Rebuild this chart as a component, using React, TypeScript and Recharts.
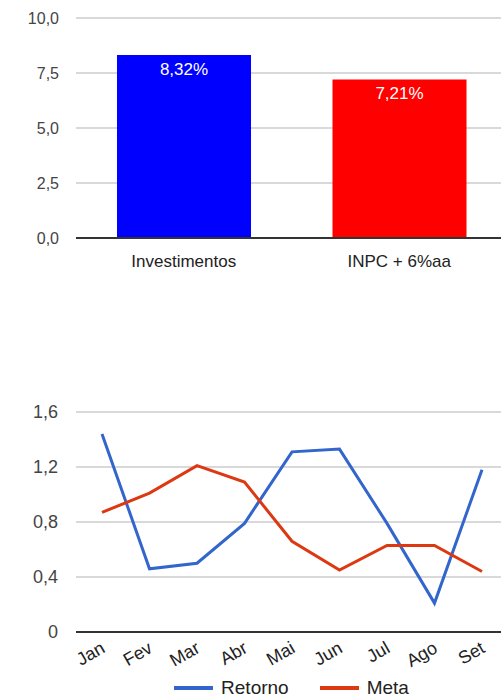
import { BarChart, Bar, LineChart, Line, XAxis, YAxis, CartesianGrid, LabelList, Legend, Cell } from 'recharts';

// comparativo anual
const barCategories = ['Investimentos', 'INPC + 6%aa'];
const barValues = [8.32, 7.21];
const barColors = ['#0000ff', '#ff0000'];
const barTicks = [0, 2.5, 5, 7.5, 10];

// retorno mensal x meta
const months = ['Jan', 'Fev', 'Mar', 'Abr', 'Mai', 'Jun', 'Jul', 'Ago', 'Set'];
const retorno = [1.44, 0.46, 0.5, 0.79, 1.31, 1.33, 0.79, 0.21, 1.18];
const meta = [0.87, 1.01, 1.21, 1.09, 0.66, 0.45, 0.63, 0.63, 0.44];
const lineTicks = [0, 0.4, 0.8, 1.2, 1.6];

const FONT = '"Liberation Sans", Arial, sans-serif';

const comma = (v: number, d: number) => v.toFixed(d).replace('.', ',');

const RotatedTick = ({ x, y, payload }: any) => (
  <g transform={`translate(${x + 1},${y + 6})`}>
    <text x={0} y={0} dy="0.35em" textAnchor="end" transform="rotate(-30)" fill="#222" fontSize={18} fontFamily={FONT}>
      {payload.value}
    </text>
  </g>
);

const LegendContent = () => {
  const items = [
    { name: 'Retorno', color: '#3366cc' },
    { name: 'Meta', color: '#dc3912' },
  ];
  return (
    <div style={{ display: 'flex', justifyContent: 'center', alignItems: 'center', height: 24, paddingLeft: 76, fontFamily: FONT, fontSize: 19, color: '#222' }}>
      {items.map((it, i) => (
        <div key={it.name} style={{ display: 'flex', alignItems: 'center', marginLeft: i ? 31 : 0 }}>
          <div style={{ width: 39, height: 4, background: it.color, marginRight: 8 }} />
          <span>{it.name}</span>
        </div>
      ))}
    </div>
  );
};

export default function App() {
  const barData = barCategories.map((name, i) => ({ name, value: barValues[i] }));
  const lineData = months.map((m, i) => ({ month: m, Retorno: retorno[i], Meta: meta[i] }));

  return (
    <div style={{ position: 'absolute', left: 0, top: 0, width: 501, height: 700, overflow: 'hidden', background: '#fff', fontFamily: FONT }}>
      <div style={{ position: 'absolute', left: 0, top: 0 }}>
        <BarChart width={507} height={280} data={barData} margin={{ top: 18, right: 0, bottom: 12, left: 0 }}>
          <CartesianGrid vertical={false} stroke="#cccccc" strokeWidth={1.5} />
          <XAxis
            dataKey="name"
            height={30}
            tickLine={false}
            tickMargin={11}
            axisLine={{ stroke: '#333', strokeWidth: 2 }}
            tick={{ fill: '#222', fontSize: 17, fontFamily: FONT }}
          />
          <YAxis
            width={76}
            domain={[0, 10]}
            ticks={barTicks}
            axisLine={false}
            tickLine={false}
            tickSize={15}
            tickMargin={2}
            tickFormatter={(v: number) => comma(v, 1)}
            tick={{ fill: '#444', fontSize: 16, fontFamily: FONT }}
          />
          <Bar dataKey="value" barSize={134} isAnimationActive={false}>
            {barData.map((_, i) => (
              <Cell key={`cell-${i}`} fill={barColors[i]} />
            ))}
            <LabelList
              dataKey="value"
              position="insideTop"
              offset={8}
              fill="#fff"
              fontSize={17}
              fontFamily={FONT}
              formatter={(v: any) => comma(Number(v), 2) + '%'}
            />
          </Bar>
        </BarChart>
      </div>

      <div style={{ position: 'absolute', left: 0, top: 392 }}>
        <LineChart width={507} height={308} data={lineData} margin={{ top: 20, right: 0, bottom: 0, left: 0 }}>
          <CartesianGrid vertical={false} stroke="#cccccc" strokeWidth={1.5} />
          <XAxis
            dataKey="month"
            height={44}
            padding={{ left: 26, right: 25 }}
            tickLine={false}
            interval={0}
            axisLine={{ stroke: '#333', strokeWidth: 2 }}
            tick={<RotatedTick />}
          />
          <YAxis
            width={76}
            domain={[0, 1.6]}
            ticks={lineTicks}
            axisLine={false}
            tickLine={false}
            tickSize={16}
            tickMargin={2}
            tickFormatter={(v: number) => (v === 0 ? '0' : comma(v, 1))}
            tick={{ fill: '#444', fontSize: 18, fontFamily: FONT }}
          />
          <Legend verticalAlign="bottom" height={24} content={<LegendContent />} />
          <Line type="linear" dataKey="Retorno" stroke="#3366cc" strokeWidth={3} dot={false} isAnimationActive={false} />
          <Line type="linear" dataKey="Meta" stroke="#dc3912" strokeWidth={3} dot={false} isAnimationActive={false} />
        </LineChart>
      </div>
    </div>
  );
}
